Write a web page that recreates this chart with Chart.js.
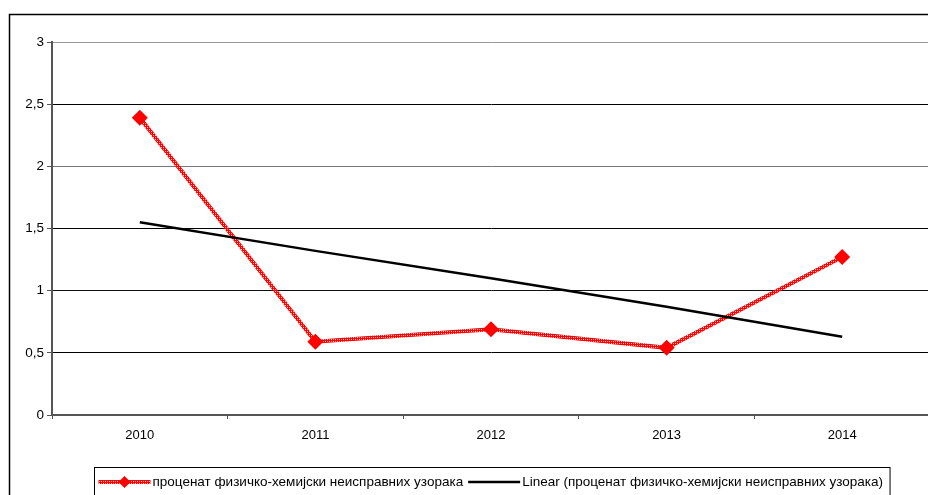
<!DOCTYPE html>
<html>
<head>
<meta charset="utf-8">
<script src="https://cdn.jsdelivr.net/npm/chart.js@4/dist/chart.umd.min.js"></script>
<style>
  html, body { margin: 0; padding: 0; background: #fff; overflow: hidden; }
  #wrap { width: 928px; height: 495px; overflow: hidden; }
</style>
</head>
<body>
<div id="wrap"><canvas id="c" width="931" height="495"></canvas></div>
<script>
// Share of physico-chemically non-compliant samples per year, with its linear trend
const years = ['2010', '2011', '2012', '2013', '2014'];
const percentDefective = [2.39, 0.59, 0.69, 0.54, 1.27];
const linearTrend = [1.55, 1.32, 1.10, 0.87, 0.63];
const yTickLabels = ['0', '0,5', '1', '1,5', '2', '2,5', '3'];
const seriesName = 'проценат физичко-хемијски неисправних узорака';
const trendName = 'Linear (проценат физичко-хемијски неисправних узорака)';

const FONT = '"Liberation Sans", Arial, sans-serif';
const gridColors = ['#555', '#000', '#111', '#000', '#777', '#000', '#999'];

// speckled red stroke for the data series
function speckledRed() {
  const p = document.createElement('canvas');
  p.width = 4; p.height = 4;
  const g = p.getContext('2d');
  g.fillStyle = '#ff0000';
  g.fillRect(0, 0, 4, 4);
  g.fillStyle = 'rgba(255,255,255,0.85)';
  g.fillRect(1, 1, 1, 1);
  g.fillRect(3, 3, 1, 1);
  g.fillStyle = 'rgba(255,200,200,0.7)';
  g.fillRect(3, 1, 1, 1);
  g.fillRect(1, 3, 1, 1);
  return g.createPattern(p, 'repeat');
}
const redStroke = speckledRed();

// outer frame and white background
const framePlugin = {
  id: 'frame',
  beforeDraw(chart) {
    const ctx = chart.ctx;
    ctx.save();
    ctx.fillStyle = '#fff';
    ctx.fillRect(0, 0, chart.width, chart.height);
    ctx.strokeStyle = '#000';
    ctx.lineWidth = 1.5;
    ctx.strokeRect(9.5, 14.5, 1200, 1200);
    ctx.restore();
  }
};

// boxed legend below the axis
const boxLegend = {
  id: 'boxLegend',
  afterDraw(chart) {
    const ctx = chart.ctx;
    ctx.save();
    ctx.font = '13.5px ' + FONT;
    const sample = 52, gapText = 2, gapItem = 5, padX = 4;
    const w1 = ctx.measureText(seriesName).width;
    const w2 = ctx.measureText(trendName).width;
    const boxW = padX + sample + gapText + w1 + gapItem + sample + gapText + w2 + padX + 3;
    const cx = 491.5;
    const left = Math.round(cx - boxW / 2) + 0.5;
    const top = 467.5;
    const ty = 482;
    ctx.strokeStyle = '#000';
    ctx.lineWidth = 1;
    ctx.strokeRect(left, top, boxW, 60);

    let x = left + padX;
    // red series sample with diamond
    ctx.strokeStyle = redStroke;
    ctx.lineWidth = 4;
    ctx.beginPath();
    ctx.moveTo(x, ty); ctx.lineTo(x + sample, ty);
    ctx.stroke();
    ctx.fillStyle = '#ff0000';
    const mx = x + sample / 2, r = 6;
    ctx.beginPath();
    ctx.moveTo(mx, ty - r); ctx.lineTo(mx + r, ty); ctx.lineTo(mx, ty + r); ctx.lineTo(mx - r, ty);
    ctx.closePath(); ctx.fill();
    x += sample + gapText;
    ctx.fillStyle = '#000';
    ctx.textBaseline = 'middle';
    ctx.textAlign = 'left';
    ctx.fillText(seriesName, x, ty);
    x += w1 + gapItem;
    // trend sample
    ctx.strokeStyle = '#000';
    ctx.lineWidth = 2.5;
    ctx.beginPath();
    ctx.moveTo(x, ty); ctx.lineTo(x + sample, ty);
    ctx.stroke();
    x += sample + gapText;
    ctx.fillText(trendName, x, ty);
    ctx.restore();
  }
};

new Chart(document.getElementById('c'), {
  type: 'line',
  data: {
    labels: years,
    datasets: [
      {
        label: trendName,
        data: linearTrend,
        borderColor: '#000',
        borderWidth: 2.5,
        pointRadius: 0,
        tension: 0,
        order: 0
      },
      {
        label: seriesName,
        data: percentDefective,
        borderColor: redStroke,
        borderWidth: 4,
        pointStyle: 'rectRot',
        pointRadius: 8,
        pointBackgroundColor: '#ff0000',
        pointBorderColor: '#ff0000',
        pointBorderWidth: 0,
        tension: 0,
        order: 1
      }
    ]
  },
  options: {
    responsive: false,
    animation: false,
    devicePixelRatio: 1,
    layout: { autoPadding: false, padding: { top: 42, right: 1, left: 0, bottom: 0 } },
    plugins: {
      legend: { display: false },
      tooltip: { enabled: false }
    },
    scales: {
      x: {
        offset: true,
        grid: {
          offset: true,
          drawOnChartArea: false,
          drawTicks: true,
          tickLength: 4,
          tickColor: '#555',
          tickWidth: 1
        },
        border: { color: '#555', width: 2 },
        ticks: {
          color: '#000',
          font: { family: FONT, size: 13 },
          padding: 9,
          maxRotation: 0
        },
        afterFit(scale) {
          scale.height = 80;
          scale.paddingLeft = 0;
          scale.paddingRight = 0;
        }
      },
      y: {
        min: 0,
        max: 3,
        grid: {
          color: (c) => gridColors[c.index] || '#000',
          lineWidth: 1,
          drawTicks: true,
          tickLength: 5,
          tickColor: '#555'
        },
        border: { color: '#555', width: 2 },
        ticks: {
          stepSize: 0.5,
          color: '#000',
          font: { family: FONT, size: 13.5 },
          padding: 3,
          callback: (v, i) => yTickLabels[i]
        },
        afterFit(scale) { scale.width = 52; }
      }
    }
  },
  plugins: [framePlugin, boxLegend]
});
</script>
</body>
</html>
